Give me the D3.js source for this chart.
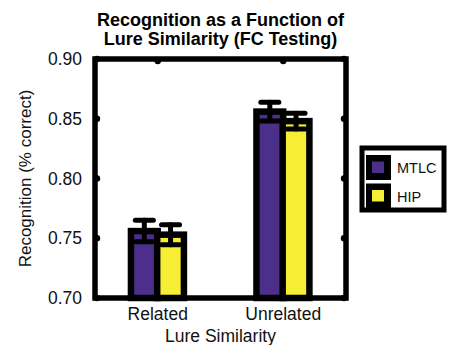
<!DOCTYPE html>
<html><head><meta charset="utf-8">
<script src="https://cdn.jsdelivr.net/npm/d3@7"></script>
<style>body{margin:0;background:#fff}svg{display:block;font-family:"Liberation Sans",Arial,sans-serif}</style>
</head><body>
<svg id="c" width="450" height="345"></svg>
<script>
const categories = ["Related", "Unrelated"];
const seriesNames = ["MTLC", "HIP"];
const mtlc = [0.756, 0.856];
const hip = [0.753, 0.848];
const mtlcErr = [0.009, 0.0078];
const hipErr = [0.0084, 0.0066];
const yTicks = [0.70, 0.75, 0.80, 0.85, 0.90];
const colors = ["#4b2f8a", "#f5ee34"];

const svg = d3.select("#c");
const L = 95, R = 346, T = 59, B = 298;
const x = d3.scaleLinear().domain([0.5, 2.5]).range([L, R]);
const y = d3.scaleLinear().domain([0.70, 0.90]).range([B, T]);
const offsets = [-0.107, 0.102];
const bw = 0.213;

const series = [mtlc, hip];
const errs = [mtlcErr, hipErr];

svg.append("rect").attr("x", L).attr("y", T).attr("width", R - L).attr("height", B - T).attr("fill", "#fff");

// bars
series.forEach((vals, si) => {
  vals.forEach((v, ci) => {
    const cx = x(ci + 1 + offsets[si]);
    const w = x(bw) - x(0);
    svg.append("rect")
      .attr("x", cx - w / 2).attr("y", y(v))
      .attr("width", w).attr("height", y(0.70) - y(v))
      .attr("fill", colors[si]).attr("stroke", "#000").attr("stroke-width", 6.5);
  });
});

// error bars
series.forEach((vals, si) => {
  vals.forEach((v, ci) => {
    const cx = x(ci + 1 + offsets[si]);
    const e = errs[si][ci];
    const g = svg.append("g").attr("stroke", "#000").attr("stroke-linecap", "round");
    g.append("line").attr("x1", cx).attr("x2", cx).attr("y1", y(v - e)).attr("y2", y(v + e)).attr("stroke-width", 5);
    [v - e, v + e].forEach(yy => {
      g.append("line").attr("x1", cx - 9).attr("x2", cx + 9).attr("y1", y(yy)).attr("y2", y(yy)).attr("stroke-width", 5);
    });
  });
});

// frame
svg.append("rect").attr("x", L).attr("y", T).attr("width", R - L).attr("height", B - T)
  .attr("fill", "none").attr("stroke", "#000").attr("stroke-width", 5.5);

// tick dots
yTicks.forEach(t => {
  svg.append("circle").attr("cx", L + 2).attr("cy", y(t)).attr("r", 3.2).attr("fill", "#000");
  svg.append("circle").attr("cx", R - 2).attr("cy", y(t)).attr("r", 3.2).attr("fill", "#000");
});
categories.forEach((c, i) => {
  svg.append("circle").attr("cx", x(i + 1)).attr("cy", T + 2).attr("r", 3.2).attr("fill", "#000");
});

// y tick labels
svg.append("g").selectAll("text").data(yTicks).join("text")
  .attr("x", 82).attr("y", d => y(d) + 6)
  .attr("text-anchor", "end").attr("font-size", 17.5).attr("fill", "#111")
  .text(d => d3.format(".2f")(d));

// x tick labels
svg.append("g").selectAll("text").data(categories).join("text")
  .attr("x", (d, i) => x(i + 1)).attr("y", 320)
  .attr("text-anchor", "middle").attr("font-size", 17.5).attr("fill", "#111")
  .text(d => d);

// axis labels
svg.append("text").attr("x", x(1.5)).attr("y", 342).attr("text-anchor", "middle")
  .attr("font-size", 17.5).attr("fill", "#111").text("Lure Similarity");
svg.append("text").attr("transform", `translate(31,${(T + B) / 2}) rotate(-90)`)
  .attr("text-anchor", "middle").attr("font-size", 17).attr("fill", "#111").text("Recognition (% correct)");

// title
svg.append("text").attr("x", x(1.5)).attr("y", 26).attr("text-anchor", "middle")
  .attr("font-size", 18).attr("font-weight", "bold").text("Recognition as a Function of");
svg.append("text").attr("x", x(1.5)).attr("y", 45).attr("text-anchor", "middle")
  .attr("font-size", 18).attr("font-weight", "bold").text("Lure Similarity (FC Testing)");

// legend
const lg = svg.append("g");
lg.append("rect").attr("x", 362).attr("y", 148).attr("width", 82).attr("height", 62)
  .attr("fill", "#fff").attr("stroke", "#000").attr("stroke-width", 5);
seriesNames.forEach((n, i) => {
  const yy = 155 + i * 28.5;
  lg.append("rect").attr("x", 366).attr("y", yy).attr("width", 25).attr("height", 25).attr("fill", "#000");
  lg.append("rect").attr("x", 372).attr("y", yy + 6.5).attr("width", 12).attr("height", 11.5).attr("fill", colors[i]);
  lg.append("text").attr("x", 397).attr("y", yy + 18).attr("font-size", 14.5).attr("fill", "#111").text(n);
});
</script>
</body></html>
